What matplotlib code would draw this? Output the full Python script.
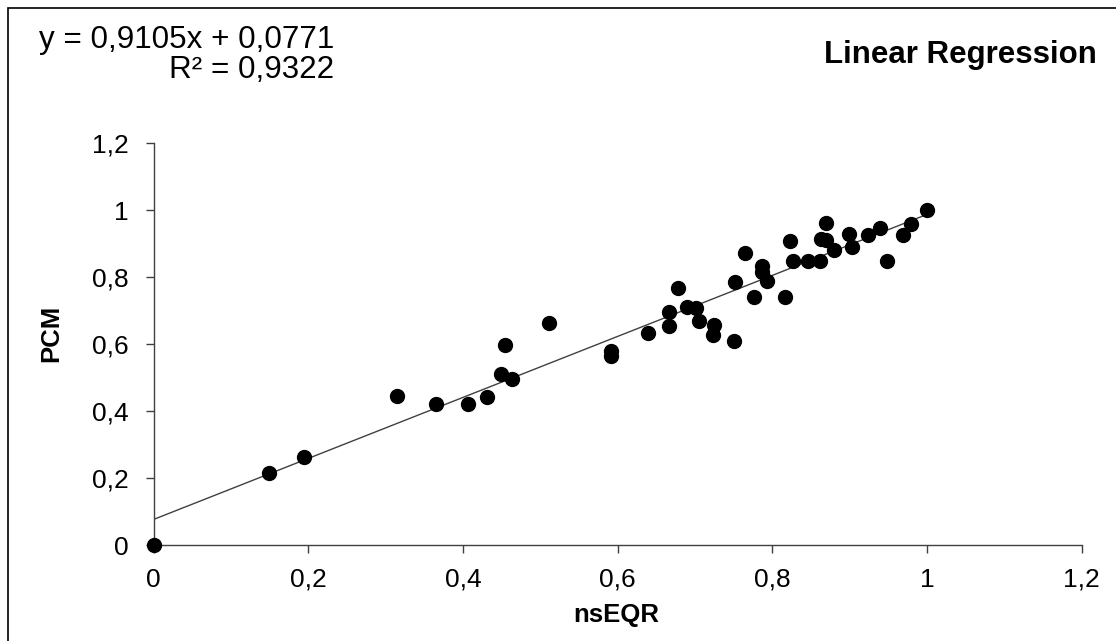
import matplotlib
matplotlib.use("Agg")
import matplotlib.pyplot as plt
from matplotlib.ticker import FuncFormatter, MultipleLocator
from matplotlib.patches import Rectangle
import numpy as np

plt.rcParams['font.family'] = ['Liberation Sans', 'DejaVu Sans']

# data
nsEQR = [0, 0.149, 0.194, 0.315, 0.365, 0.407, 0.431, 0.449, 0.455, 0.463,
         0.512, 0.592, 0.592, 0.639, 0.667, 0.667, 0.678, 0.690, 0.701, 0.706,
         0.725, 0.723, 0.750, 0.752, 0.765, 0.777, 0.787, 0.787, 0.793, 0.817,
         0.823, 0.827, 0.846, 0.862, 0.863, 0.869, 0.870, 0.880, 0.899, 0.903,
         0.924, 0.940, 0.949, 0.969, 0.979, 1.0]
PCM = [0, 0.215, 0.265, 0.446, 0.422, 0.422, 0.442, 0.510, 0.598, 0.496,
       0.663, 0.581, 0.565, 0.633, 0.696, 0.655, 0.767, 0.711, 0.707, 0.670,
       0.658, 0.628, 0.611, 0.787, 0.874, 0.740, 0.834, 0.815, 0.790, 0.740,
       0.909, 0.848, 0.848, 0.850, 0.913, 0.962, 0.910, 0.881, 0.929, 0.891,
       0.926, 0.948, 0.849, 0.926, 0.959, 1.0]
SLOPE = 0.9105
INTERCEPT = 0.0771
R2 = 0.9322
FIT_RANGE = [0, 1]

W, H = 1116, 641
fig = plt.figure(figsize=(W / 100, H / 100), dpi=100)
ax = fig.add_axes([153.5 / W, 1 - 545.3 / H, (1081.5 - 153.5) / W, (545.3 - 143.3) / H])

fx = np.array(FIT_RANGE)
ax.plot(fx, SLOPE * fx + INTERCEPT, color='#404040', lw=1.0, zorder=2)
ax.plot(nsEQR, PCM, 'o', color='black', ms=10, clip_on=False, zorder=3)

ax.set_xlim(0, 1.2)
ax.set_ylim(0, 1.2)
ax.xaxis.set_major_locator(MultipleLocator(0.2))
ax.yaxis.set_major_locator(MultipleLocator(0.2))
fmt = FuncFormatter(lambda v, p: ('%g' % round(v, 2)).replace('.', ','))
ax.xaxis.set_major_formatter(fmt)
ax.yaxis.set_major_formatter(fmt)

for s in ['top', 'right']:
    ax.spines[s].set_visible(False)
for s in ['left', 'bottom']:
    ax.spines[s].set_color('#404040')
    ax.spines[s].set_linewidth(1.0)
ax.tick_params(axis='both', direction='out', length=6, width=1.0, color='#404040',
               labelsize=19, labelcolor='black')
ax.tick_params(axis='y', pad=12)
ax.tick_params(axis='x', pad=10)

ax.set_xlabel('nsEQR', fontsize=18.5, fontweight='bold', va='baseline', ha='center')
ax.xaxis.set_label_coords(616.5 / W, 1 - 622 / H, transform=fig.transFigure)
ax.set_ylabel('PCM', fontsize=18.5, fontweight='bold', va='center', ha='center')
ax.yaxis.set_label_coords(51 / W, 1 - 333.5 / H, transform=fig.transFigure)

fig.text(334 / W, 1 - 48 / H, ('y = %.4fx + %.4f' % (SLOPE, INTERCEPT)).replace('.', ','),
         ha='right', va='baseline', fontsize=22.6)
fig.text(334 / W, 1 - 78 / H, ('R² = %.4f' % R2).replace('.', ','),
         ha='right', va='baseline', fontsize=22.6)
fig.text(1097 / W, 1 - 63 / H, 'Linear Regression', ha='right', va='baseline',
         fontsize=22.5, fontweight='bold')

fig.patches.append(Rectangle((8 / W, -0.05), 1.1, 1 - 8 / H + 0.05, transform=fig.transFigure,
                             fill=False, edgecolor='black', lw=1.2))

fig.savefig('out.png', dpi=100)
